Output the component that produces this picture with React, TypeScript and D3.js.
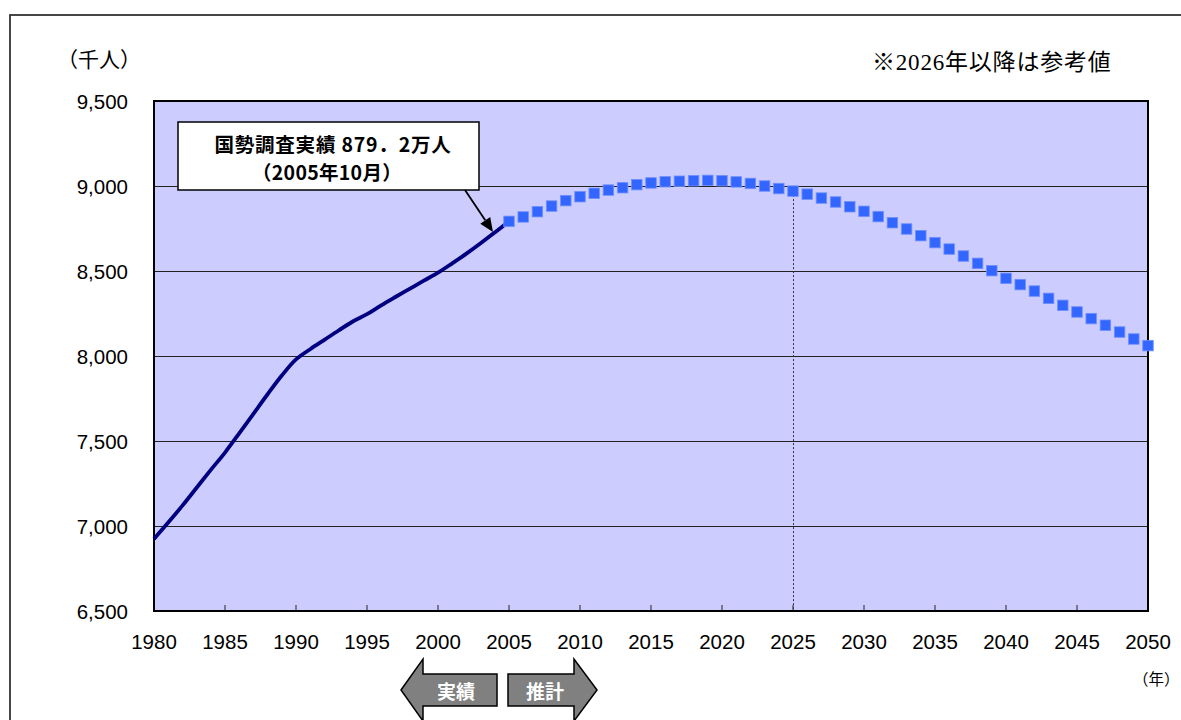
import React from "react";
import * as d3 from "d3";

// Population (thousand persons), census-based actuals 1980–2005
const actualYears = [
  1980, 1981, 1982, 1983, 1984, 1985, 1986, 1987, 1988, 1989, 1990, 1991, 1992,
  1993, 1994, 1995, 1996, 1997, 1998, 1999, 2000, 2001, 2002, 2003, 2004, 2005,
];
const actualValues = [
  6924, 7020, 7120, 7225, 7330, 7432, 7545, 7660, 7775, 7885, 7980, 8040, 8095,
  8150, 8203, 8246, 8298, 8347, 8395, 8443, 8490, 8545, 8602, 8663, 8727, 8792,
];

// Projection 2005–2050
const projYears = d3.range(2005, 2051);
const projValues = [
  8792, 8818, 8849, 8882, 8914, 8937, 8957, 8976, 8990, 9008, 9018, 9025, 9028,
  9031, 9033, 9031, 9024, 9015, 9000, 8985, 8970, 8952, 8929, 8906, 8878, 8851,
  8820, 8784, 8747, 8708, 8667, 8629, 8588, 8545, 8502, 8457, 8420, 8382, 8339,
  8298, 8259, 8220, 8181, 8141, 8100, 8061,
];

const yTicks = [6500, 7000, 7500, 8000, 8500, 9000, 9500];
const xTicks = d3.range(1980, 2051, 5);

const NUM_FONT = "'Liberation Sans', Arial, 'Noto Sans CJK JP', sans-serif";
const JP_FONT = "'Noto Sans CJK JP', 'Liberation Sans', sans-serif";

export default function App() {
  const left = 154;
  const right = 1148;
  const top = 101;
  const bottom = 611;

  const x = d3.scaleLinear().domain([1980, 2050]).range([left, right]);
  const y = d3.scaleLinear().domain([6500, 9500]).range([bottom, top]);

  const actualPts: [number, number][] = actualYears.map((yr, i) => [
    x(yr),
    y(actualValues[i]),
  ]);
  const line = d3.line().curve(d3.curveCatmullRom.alpha(0.5));
  const actualPath = line(actualPts) || "";

  const refYear = 2025;
  const refVal = projValues[projYears.indexOf(refYear)];

  const m = 10.5; // marker size

  // bottom arrows
  const ay = 690;
  const bodyH = 16;
  const headH = 31;
  const leftArrow = [
    [401, ay],
    [423, ay - headH],
    [423, ay - bodyH],
    [497, ay - bodyH],
    [497, ay + bodyH],
    [423, ay + bodyH],
    [423, ay + headH],
  ];
  const rightArrow = [
    [597, ay],
    [574, ay - headH],
    [574, ay - bodyH],
    [508, ay - bodyH],
    [508, ay + bodyH],
    [574, ay + bodyH],
    [574, ay + headH],
  ];
  const poly = (p: number[][]) => p.map((q) => q.join(",")).join(" ");

  // callout arrow toward the 2005 value
  const tip: [number, number] = [493, 232];
  const start: [number, number] = [465, 190];
  const ang = Math.atan2(tip[1] - start[1], tip[0] - start[0]);
  const hl = 14;
  const hw = 6;
  const bx = tip[0] - hl * Math.cos(ang);
  const by = tip[1] - hl * Math.sin(ang);
  const head = [
    [tip[0], tip[1]],
    [bx + hw * Math.sin(ang), by - hw * Math.cos(ang)],
    [bx - hw * Math.sin(ang), by + hw * Math.cos(ang)],
  ];

  return (
    <svg
      width={1181}
      height={720}
      style={{ position: "absolute", left: 0, top: 0, background: "#fff" }}
    >
      {/* outer frame */}
      <rect x={10} y={15} width={1200} height={760} fill="#fff" stroke="#333" strokeWidth={1.8} />

      {/* plot area */}
      <rect x={left} y={top} width={right - left} height={bottom - top} fill="#ccccff" />

      {/* gridlines */}
      {yTicks
        .filter((v) => v > 6500 && v < 9500)
        .map((v) => (
          <line
            key={v}
            x1={left}
            x2={right}
            y1={Math.round(y(v)) + 0.5}
            y2={Math.round(y(v)) + 0.5}
            stroke="#222"
            strokeWidth={1}
          />
        ))}

      {/* x ticks inside */}
      {xTicks
        .filter((t) => t > 1980 && t < 2050)
        .map((t) => (
          <line key={t} x1={x(t)} x2={x(t)} y1={bottom} y2={bottom - 6} stroke="#222" strokeWidth={1} />
        ))}

      {/* reference year line */}
      <line
        x1={Math.round(x(refYear)) + 0.5}
        x2={Math.round(x(refYear)) + 0.5}
        y1={y(refVal)}
        y2={bottom}
        stroke="#333"
        strokeWidth={1}
        strokeDasharray="2,2"
      />

      {/* plot border */}
      <rect
        x={left}
        y={top}
        width={right - left}
        height={bottom - top}
        fill="none"
        stroke="#000"
        strokeWidth={2}
      />

      {/* actual line */}
      <path d={actualPath} fill="none" stroke="#000080" strokeWidth={3.8} strokeLinejoin="round" />

      {/* projection markers */}
      {projYears.map((yr, i) => (
        <rect
          key={yr}
          x={x(yr) - m / 2}
          y={y(projValues[i]) - m / 2}
          width={m}
          height={m}
          fill="#3366ff"
          stroke="#7090ff"
          strokeWidth={0.8}
        />
      ))}

      {/* y labels */}
      {yTicks.map((v) => (
        <text
          key={v}
          x={128}
          y={y(v)}
          textAnchor="end"
          dominantBaseline="central"
          fontFamily={NUM_FONT}
          fontSize={20.5}
          fill="#000"
        >
          {d3.format(",")(v)}
        </text>
      ))}

      {/* x labels */}
      {xTicks.map((t) => (
        <text
          key={t}
          x={x(t)}
          y={641}
          textAnchor="middle"
          dominantBaseline="central"
          fontFamily={NUM_FONT}
          fontSize={20.5}
          fill="#000"
        >
          {t}
        </text>
      ))}

      {/* unit labels */}
      <text x={57} y={58} dominantBaseline="central" fontFamily={JP_FONT} fontSize={21}>
        （千人）
      </text>
      <text x={1133} y={678} dominantBaseline="central" fontFamily={JP_FONT} fontSize={15.5}>
        （年）
      </text>
      <text
        x={872}
        y={62}
        dominantBaseline="central"
        fontFamily="'Liberation Serif', 'Noto Sans CJK JP', serif"
        fontSize={23}
        letterSpacing={0.8}
      >
        ※2026年以降は参考値
      </text>

      {/* callout */}
      <rect x={178} y={122} width={301} height={68} fill="#fff" stroke="#000" strokeWidth={1.5} />
      <text
        x={333}
        y={143}
        textAnchor="middle"
        dominantBaseline="central"
        fontFamily={JP_FONT}
        fontWeight="bold"
        fontSize={19.5}
        letterSpacing={0.8}
      >
        国勢調査実績 879．2万人
      </text>
      <text
        x={327}
        y={171}
        textAnchor="middle"
        dominantBaseline="central"
        fontFamily={JP_FONT}
        fontWeight="bold"
        fontSize={19.5}
        letterSpacing={0.3}
      >
        （2005年10月）
      </text>
      <line x1={start[0]} y1={start[1]} x2={bx} y2={by} stroke="#000" strokeWidth={1.8} />
      <polygon points={poly(head)} fill="#000" />

      {/* actual / projection arrows */}
      <polygon points={poly(leftArrow)} fill="#808080" stroke="#000" strokeWidth={1.5} />
      <polygon points={poly(rightArrow)} fill="#808080" stroke="#000" strokeWidth={1.5} />
      <text
        x={456}
        y={ay}
        textAnchor="middle"
        dominantBaseline="central"
        fontFamily={JP_FONT}
        fontWeight="bold"
        fontSize={19}
        fill="#fff"
      >
        実績
      </text>
      <text
        x={545}
        y={ay}
        textAnchor="middle"
        dominantBaseline="central"
        fontFamily={JP_FONT}
        fontWeight="bold"
        fontSize={19}
        fill="#fff"
      >
        推計
      </text>
    </svg>
  );
}
